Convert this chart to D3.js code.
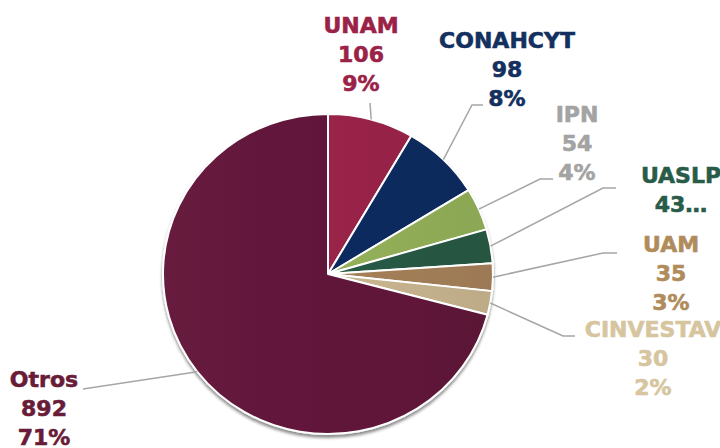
<!DOCTYPE html>
<html>
<head>
<meta charset="utf-8">
<script src="https://cdn.jsdelivr.net/npm/d3@7"></script>
<style>
  html, body { margin: 0; padding: 0; background: #fff; }
  svg { display: block; }
  .lbl { font-family: "DejaVu Sans", sans-serif; font-weight: bold; font-size: 22px; stroke-width: 0.6px; }
</style>
</head>
<body>
<svg id="chart" width="720" height="448"></svg>
<script>
var categories = ['UNAM', 'CONAHCYT', 'IPN', 'UASLP', 'UAM', 'CINVESTAV', 'Otros']
var values = [106, 98, 54, 43, 35, 30, 892]
var percents = ['9%', '8%', '4%', '3%', '3%', '2%', '71%']

var sliceColors = ['#9b2549', '#0d2b61', '#95b25a', '#285b46', '#a7825a', '#cbb791', '#62193a']
var labelColors = ['#9b2247', '#13305f', '#a3a3a3', '#285c48', '#b08c5c', '#d6c59e', '#691c38']

// label anchors: x centre, first baseline, lines shown, leader elbow and end
var labelLayout = [
    { x: 361, y: 33, lines: 3, elbow: [370, 103], end: [370, 103] },
    { x: 507, y: 48, lines: 3, elbow: [472, 105], end: [483, 105] },
    { x: 577, y: 122, lines: 3, elbow: [540, 179], end: [553, 179] },
    { x: 681, y: 183, lines: 2, elbow: [603, 188], end: [616, 188] },
    { x: 671, y: 252, lines: 3, elbow: [603, 253], end: [617, 253] },
    { x: 653, y: 337, lines: 3, elbow: [563, 336], end: [575, 336] },
    { x: 44, y: 387, lines: 3, elbow: [83, 389], end: [83, 389] }
]

var cx = 328, cy = 274, radius = 165, squash = 0.97
var lineHeight = 29

var svg = d3.select('#chart')
var defs = svg.append('defs')

var shadow = defs.append('filter')
    .attr('id', 'shadow')
    .attr('x', '-10%').attr('y', '-10%')
    .attr('width', '120%').attr('height', '120%')
shadow.append('feDropShadow')
    .attr('dx', 0).attr('dy', 3)
    .attr('stdDeviation', 1.5)
    .attr('flood-color', '#000')
    .attr('flood-opacity', 0.45)

sliceColors.forEach(function (c, i) {
    var g = defs.append('linearGradient')
        .attr('id', 'grad' + i)
        .attr('gradientUnits', 'userSpaceOnUse')
        .attr('x1', -radius).attr('y1', 0)
        .attr('x2', radius).attr('y2', 0)
    g.append('stop').attr('offset', '0%').attr('stop-color', d3.color(c).brighter(0.15))
    g.append('stop').attr('offset', '100%').attr('stop-color', d3.color(c).darker(0.2))
})

var pie = d3.pie().sort(null).value(function (d) { return d })
var arcs = pie(values)
var arc = d3.arc().innerRadius(0).outerRadius(radius)

var pieLayer = svg.append('g')
    .attr('transform', 'translate(' + cx + ',' + cy + ') scale(1,' + squash + ')')

pieLayer.append('g')
    .attr('filter', 'url(#shadow)')
    .selectAll('path')
    .data(arcs)
    .enter()
    .append('path')
    .attr('d', arc)
    .style('fill', function (d, i) { return 'url(#grad' + i + ')' })
    .style('stroke', '#fff')
    .style('stroke-width', 2)
    .style('stroke-linejoin', 'round')

// leader lines from the arc edge at mid angle
var edgePoint = function (d) {
    var a = (d.startAngle + d.endAngle) / 2
    return [cx + radius * Math.sin(a), cy - radius * squash * Math.cos(a)]
}
svg.append('g')
    .selectAll('path')
    .data(arcs)
    .enter()
    .append('path')
    .attr('d', function (d, i) {
        var p = edgePoint(d)
        var L = labelLayout[i]
        return d3.line()([p, L.elbow, L.end])
    })
    .style('fill', 'none')
    .style('stroke', '#a6a6a6')
    .style('stroke-width', 1.5)

var labels = svg.append('g')
    .selectAll('text')
    .data(categories)
    .enter()
    .append('text')
    .attr('class', 'lbl')
    .attr('text-anchor', 'middle')
    .attr('x', function (d, i) { return labelLayout[i].x })
    .attr('y', function (d, i) { return labelLayout[i].y })
    .style('fill', function (d, i) { return labelColors[i] })
    .style('stroke', function (d, i) { return labelColors[i] })

labels.each(function (d, i) {
    var lines = [d, String(values[i]), percents[i]]
    var n = labelLayout[i].lines
    if (n < lines.length) {
        lines = lines.slice(0, n)
        lines[n - 1] = lines[n - 1] + '…'
    }
    d3.select(this).selectAll('tspan')
        .data(lines)
        .enter()
        .append('tspan')
        .attr('x', labelLayout[i].x)
        .attr('dy', function (t, j) { return j === 0 ? 0 : lineHeight })
        .text(function (t) { return t })
})
</script>
</body>
</html>
